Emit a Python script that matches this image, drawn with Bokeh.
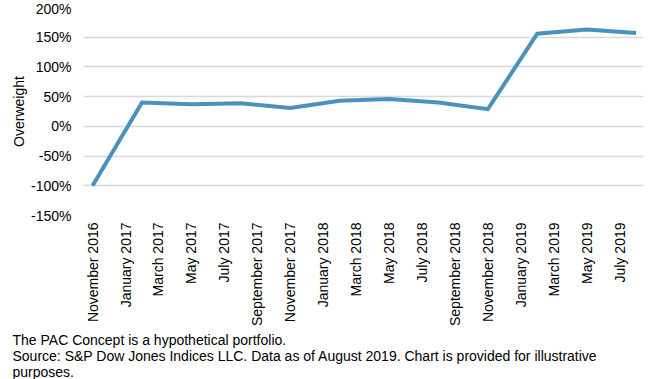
from bokeh.plotting import figure
from bokeh.models import FixedTicker, Range1d, Title
from bokeh.embed import file_html
from bokeh.resources import INLINE

# ---- data ----
months = ["Nov 2016", "Feb 2017", "May 2017", "Aug 2017", "Nov 2017", "Feb 2018",
          "May 2018", "Aug 2018", "Nov 2018", "Feb 2019", "May 2019", "Aug 2019"]
overweight = [-100, 40, 37, 39, 31, 43, 46, 40, 29, 156, 163, 157]

tick_labels = ["November 2016", "January 2017", "March 2017", "May 2017", "July 2017",
               "September 2017", "November 2017", "January 2018", "March 2018",
               "May 2018", "July 2018", "September 2018", "November 2018",
               "January 2019", "March 2019", "May 2019", "July 2019"]
y_ticks = [-150, -100, -50, 0, 50, 100, 150, 200]

y_title = "Overweight"
footnotes = ["The PAC Concept is a hypothetical portfolio.",
             "Source: S&P Dow Jones Indices LLC.  Data as of August 2019.  Chart is provided for illustrative",
             "purposes."]

MONTHS = {"Jan": 1, "Feb": 2, "Mar": 3, "Apr": 4, "May": 5, "Jun": 6, "Jul": 7,
          "Aug": 8, "Sep": 9, "Oct": 10, "Nov": 11, "Dec": 12,
          "January": 1, "March": 3, "July": 7, "September": 9, "November": 11}


def month_index(s):
    m, y = s.split()
    return (int(y) - 2016) * 12 + MONTHS[m] - 11


xs = [month_index(m) for m in months]
tick_pos = [month_index(t) for t in tick_labels]

FONT = "Liberation Sans"
W, H = 660, 379

p = figure(width=W, height=H, output_backend="svg", toolbar_location=None,
           x_range=Range1d(-0.55, 33.45), y_range=Range1d(-150, 200),
           min_border_left=83, min_border_right=17, min_border_top=7, min_border_bottom=163)
p.outline_line_color = None
p.background_fill_color = "white"
p.border_fill_color = "white"

p.line(xs, overweight, line_color="#4a92bd", line_width=4, line_join="miter")

# axes
p.xaxis.ticker = FixedTicker(ticks=tick_pos)
p.xaxis.major_label_overrides = {pos: lab for pos, lab in zip(tick_pos, tick_labels)}
p.xaxis.major_label_orientation = 1.5707963
p.xaxis.axis_line_color = None
p.xaxis.major_tick_line_color = None
p.xaxis.minor_tick_line_color = None
p.xaxis.major_tick_out = 0
p.xaxis.major_tick_in = 0
p.xaxis.major_label_standoff = 7
p.xaxis.major_label_text_font = FONT
p.xaxis.major_label_text_font_size = "14px"
p.xaxis.major_label_text_color = "#000000"

p.yaxis.ticker = FixedTicker(ticks=y_ticks)
p.yaxis.major_label_overrides = {v: f"{v}%" for v in y_ticks}
p.yaxis.axis_line_color = None
p.yaxis.major_tick_line_color = None
p.yaxis.minor_tick_line_color = None
p.yaxis.major_tick_out = 0
p.yaxis.major_tick_in = 0
p.yaxis.major_label_standoff = 12
p.yaxis.major_label_text_font = FONT
p.yaxis.major_label_text_font_size = "14px"
p.yaxis.major_label_text_color = "#000000"
p.yaxis.axis_label = y_title
p.yaxis.axis_label_text_font = FONT
p.yaxis.axis_label_text_font_size = "14px"
p.yaxis.axis_label_text_font_style = "normal"
p.yaxis.axis_label_text_color = "#000000"
p.yaxis.axis_label_standoff = 1

p.xgrid.grid_line_color = None
p.ygrid.ticker = FixedTicker(ticks=y_ticks)
p.ygrid.grid_line_color = "#d9d9d9"
p.ygrid.grid_line_width = 1.5

p.add_layout(Title(text="\n".join(footnotes), align="left", offset=-71, standoff=0,
                   text_font=FONT, text_font_size="14px", text_font_style="normal",
                   text_color="#000000", text_line_height=1.0), "below")

open("out.html", "w").write(file_html(p, INLINE))
